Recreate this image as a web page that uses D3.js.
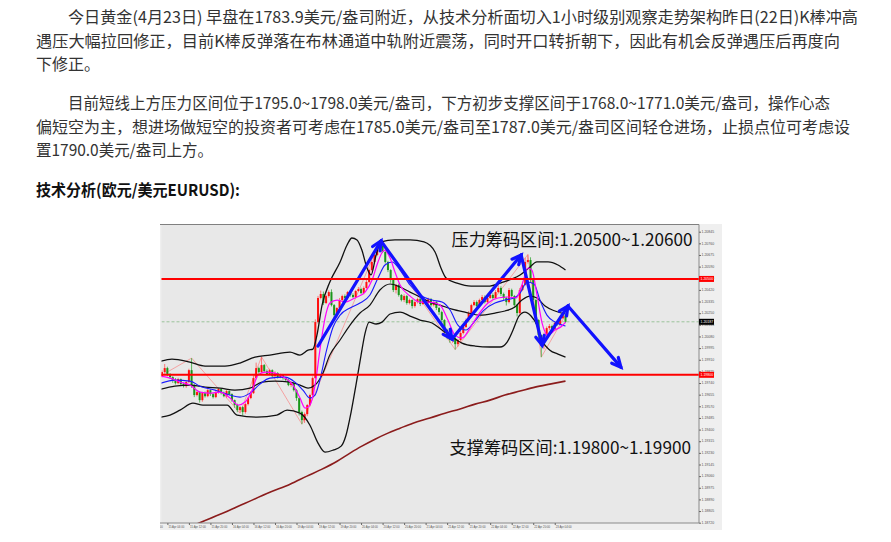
<!DOCTYPE html>
<html><head><meta charset="utf-8">
<script src="https://cdn.jsdelivr.net/npm/d3@7"></script>
<style>
body{margin:0;background:#fff;}
svg{display:block;}
</style></head>
<body><svg id="c" width="891" height="542"></svg>
<script>
// ---------------- DATA ----------------
const para1 = [
 "今日黄金(4月23日) 早盘在1783.9美元/盎司附近，从技术分析面切入1小时级别观察走势架构昨日(22日)K棒冲高",
 "遇压大幅拉回修正，目前K棒反弹落在布林通道中轨附近震荡，同时开口转折朝下，因此有机会反弹遇压后再度向",
 "下修正。"];
const para2 = [
 "目前短线上方压力区间位于1795.0~1798.0美元/盎司，下方初步支撑区间于1768.0~1771.0美元/盎司，操作心态",
 "偏短空为主，想进场做短空的投资者可考虑在1785.0美元/盎司至1787.0美元/盎司区间轻仓进场，止损点位可考虑设",
 "置1790.0美元/盎司上方。"];
const heading = "技术分析(欧元/美元EURUSD):";
const resistText = "压力筹码区间:1.20500~1.20600";
const supportText = "支撑筹码区间:1.19800~1.19900";

const firstOpen = 1.19790;
const closes = [
1.19820,1.19849,1.19805,1.19783,1.19761,1.19739,1.19768,1.19732,1.19717,1.19747,
1.19834,1.19725,1.19652,1.19674,1.19615,1.19666,1.19644,1.19688,1.19659,1.19637,
1.19674,1.19696,1.19666,1.19644,1.19681,1.19659,1.19615,1.19579,1.19542,1.19564,
1.19528,1.19586,1.19630,1.19666,1.19776,1.19849,1.19820,1.19871,1.19827,1.19805,
1.19834,1.19790,1.19812,1.19783,1.19798,1.19776,1.19761,1.19725,1.19739,1.19688,
1.19630,1.19528,1.19469,1.19513,1.19579,1.19652,1.19776,1.20185,1.20361,1.20390,
1.20324,1.20375,1.20404,1.20309,1.20236,1.20288,1.20346,1.20375,1.20361,1.20404,
1.20383,1.20368,1.20412,1.20426,1.20397,1.20434,1.20478,1.20565,1.20624,1.20675,
1.20711,1.20741,1.20697,1.20624,1.20565,1.20492,1.20419,1.20456,1.20383,1.20346,
1.20375,1.20324,1.20346,1.20302,1.20331,1.20353,1.20317,1.20339,1.20324,1.20353,
1.20309,1.20331,1.20288,1.20258,1.20200,1.20127,1.20090,1.20054,1.20068,1.20024,
1.20054,1.20105,1.20149,1.20200,1.20251,1.20309,1.20331,1.20302,1.20346,1.20368,
1.20331,1.20361,1.20383,1.20361,1.20404,1.20434,1.20390,1.20361,1.20331,1.20419,
1.20375,1.20309,1.20251,1.20419,1.20456,1.20624,1.20638,1.20492,1.20346,1.20200,
1.20090,1.20017,1.20090,1.20141,1.20156,1.20134,1.20178,1.20171,1.20214,1.20235,
1.20187];
// wick lengths in points (0.00001)
const upWick = [
12,30,10,8,6,15,10,5,12,8, 10,88,8,14,5,10,12,8,6,10, 14,8,6,12,8,5,6,4,10,8,
6,12,8,15,20,40,10,60,8,12, 10,6,14,8,10,6,8,12,6,5, 8,6,10,12,8,10,12,20,15,25,
18,10,12,20,8,6,15,10,12,8, 10,12,8,15,10,12,14,10,12,15, 20,36,15,10,8,6,12,8,10,6,
12,8,10,6,14,10,8,12,6,10, 8,12,6,8,10,6,8,5,15,12, 8,15,10,12,14,10,15,12,10,15,
12,10,18,12,15,20,12,10,8,15, 10,8,6,15,25,30,40,20,10,8, 6,5,18,12,15,10,12,10,15,20, 8];
const dnWick = [
10,8,15,12,20,10,8,15,10,12, 8,20,15,10,18,12,10,8,14,10, 8,12,10,8,14,10,12,20,15,18,
25,12,10,8,6,10,12,8,10,6, 8,12,6,10,8,12,10,8,15,10, 20,25,30,20,15,10,8,6,12,10,
15,8,12,10,25,18,10,12,8,10, 12,8,10,6,8,10,6,8,10,6, 8,10,8,12,15,20,15,25,12,10,
15,12,10,18,12,10,15,8,12,10, 12,10,15,20,18,25,30,20,20,40, 18,12,10,8,10,12,8,10,12,8,
10,12,8,10,6,8,15,20,25,10, 12,18,25,12,8,6,12,20,25,30, 40,88,30,20,15,18,10,12,8,6, 10];

// indicator lines: [bar index, price]
const bbUpper = [[-0.4,1.19900],[3.7,1.19915],[10.4,1.19893],[16,1.19864],[23.4,1.19864],[29,1.19886],[34.6,1.19929],[40.1,1.19944],[47.6,1.19966],[51.3,1.19944],[54.3,1.19980],[56.1,1.19988],[57.6,1.20090],[59.5,1.20309],[62.4,1.20478],[66.2,1.20624],[68.8,1.20748],[70.6,1.20799],[72.5,1.20785],[74.3,1.20711],[76.2,1.20580],[77.7,1.20529],[79.6,1.20675],[81.4,1.20770],[86.6,1.20785],[92.2,1.20785],[97.4,1.20770],[101.5,1.20697],[103.7,1.20580],[105.6,1.20507],[109.7,1.20470],[114.9,1.20448],[121.9,1.20448],[125.7,1.20470],[130.1,1.20500],[133.1,1.20529],[136.4,1.20580],[139.4,1.20624],[143.5,1.20624],[147.2,1.20602],[150,1.20565]];
const bbMiddle = [[-0.4,1.19695],[4.8,1.19717],[10.4,1.19725],[16,1.19710],[21.6,1.19703],[27.1,1.19688],[32.7,1.19703],[37.2,1.19747],[42,1.19754],[47.6,1.19747],[51.3,1.19725],[54.3,1.19703],[56.9,1.19725],[59.5,1.19798],[62.4,1.19944],[66.2,1.20054],[69.9,1.20163],[73.6,1.20251],[77.3,1.20309],[81,1.20419],[84.8,1.20463],[88.5,1.20441],[92.2,1.20404],[95.9,1.20368],[99.6,1.20331],[103.3,1.20309],[107.8,1.20280],[112.6,1.20258],[118.2,1.20236],[123.8,1.20251],[127.5,1.20266],[131.2,1.20295],[133.8,1.20346],[136.8,1.20375],[139.4,1.20361],[142.4,1.20302],[146.1,1.20266],[150,1.20244]];
const bbLower = [[-0.4,1.19491],[3,1.19506],[6.7,1.19542],[11.5,1.19593],[15.2,1.19579],[24.2,1.19579],[27.9,1.19506],[35.3,1.19491],[42.7,1.19506],[46.5,1.19542],[51.3,1.19520],[55,1.19432],[58,1.19301],[60.6,1.19235],[63.6,1.19250],[66.6,1.19279],[68.4,1.19359],[70.3,1.19528],[72.1,1.19725],[74,1.19944],[75.5,1.20105],[77,1.20185],[79.6,1.20171],[81.8,1.20185],[84.8,1.20244],[88.5,1.20258],[92.2,1.20229],[95.9,1.20200],[100.4,1.20178],[104.1,1.20127],[107.8,1.20076],[111.5,1.20032],[116.4,1.20010],[121.9,1.20003],[125.7,1.20003],[128.3,1.20039],[130.5,1.20127],[132.7,1.20229],[134.9,1.20258],[137.2,1.20229],[139.4,1.20163],[141.6,1.20039],[144.2,1.19980],[147.2,1.19951],[150,1.19929]];
const maFast = [[-0.4,1.19790],[3,1.19776],[6.7,1.19747],[10.4,1.19725],[14.1,1.19674],[17.8,1.19666],[21.6,1.19674],[25.3,1.19630],[28.3,1.19579],[30.9,1.19601],[33.5,1.19688],[35.7,1.19798],[38.3,1.19820],[42,1.19812],[45.7,1.19776],[48.7,1.19725],[51.3,1.19630],[53.2,1.19557],[55,1.19579],[56.9,1.19725],[58.7,1.19980],[60.6,1.20214],[62.4,1.20324],[65.1,1.20346],[68,1.20331],[71.7,1.20361],[75.5,1.20404],[78.1,1.20492],[80.3,1.20624],[82.6,1.20711],[84.8,1.20653],[86.6,1.20551],[88.5,1.20456],[92.2,1.20375],[95.9,1.20331],[99.6,1.20331],[103.3,1.20309],[106.3,1.20200],[108.9,1.20090],[111.5,1.20068],[114.5,1.20141],[117.5,1.20236],[121.2,1.20324],[124.9,1.20361],[128.6,1.20368],[131.6,1.20361],[133.8,1.20456],[136.1,1.20580],[137.5,1.20565],[139.4,1.20383],[141.3,1.20178],[143.5,1.20090],[146.1,1.20127],[148.7,1.20156],[150,1.20185]];
const maSlow = [[-0.4,1.19739],[4.8,1.19761],[10.4,1.19754],[14.1,1.19717],[19.7,1.19688],[25.3,1.19652],[29,1.19637],[32.7,1.19666],[36.4,1.19732],[40.1,1.19776],[45.7,1.19783],[49.4,1.19747],[52.4,1.19688],[55,1.19630],[56.9,1.19652],[58.7,1.19761],[61,1.19966],[63.6,1.20149],[66.2,1.20236],[69.9,1.20288],[73.6,1.20324],[77.3,1.20383],[80.3,1.20507],[82.9,1.20602],[85.5,1.20624],[88.5,1.20565],[92.2,1.20456],[95.9,1.20383],[100.4,1.20346],[104.1,1.20331],[107.1,1.20273],[110,1.20163],[113,1.20127],[116,1.20185],[119.7,1.20273],[123.8,1.20324],[127.5,1.20346],[130.8,1.20361],[133.1,1.20397],[135.7,1.20478],[138.3,1.20463],[140.5,1.20346],[143.1,1.20236],[146.1,1.20185],[150,1.20156]];
const zigzag = [[0,1.19798],[11,1.19922],[29,1.19520],[37,1.19931],[52,1.19440],[81,1.20777],[109,1.19984],[136,1.20678],[141,1.19929],[150,1.20236]];
const ma200 = [[12.6,1.18708],[21.6,1.18781],[30.9,1.18862],[40.1,1.18942],[47.6,1.19001],[53.9,1.19060],[59.5,1.19111],[65.1,1.19169],[69.9,1.19228],[74.3,1.19279],[79.2,1.19330],[84,1.19374],[88.5,1.19410],[93.3,1.19447],[99.6,1.19484],[105.2,1.19520],[110.8,1.19550],[116.4,1.19586],[121.9,1.19615],[127.5,1.19652],[133.1,1.19681],[138.7,1.19710],[144.2,1.19732],[150,1.19754]];
const arrowPath = [[58,1.20010],[81.4,1.20777],[107.8,1.20061],[133.5,1.20675],[141.3,1.20017],[150.9,1.20302],[170.6,1.19856]];

const resistance = 1.20500, support = 1.19800, lastPrice = 1.20187;
const priceMarkers = [[1.20500,"1.20500"],[1.20187,"1.20187"],[1.19800,"1.19800"]];
const yTicks = [1.20845,1.20760,1.20675,1.20590,1.20505,1.20420,1.20335,1.20250,1.20165,1.20080,1.19995,1.19910,1.19825,1.19740,1.19655,1.19570,1.19485,1.19400,1.19315,1.19230,1.19145,1.19060,1.18975,1.18890,1.18805,1.18720];
const xTickBars = [-6,2,10,18,26,34,42,50,58,66,74,82,90,98,106,114,122,130,138,146];
const xTickLabels = ["14 Apr 20:00","15 Apr 04:00","15 Apr 12:00","15 Apr 20:00","16 Apr 04:00","16 Apr 12:00","16 Apr 20:00","19 Apr 04:00","19 Apr 12:00","19 Apr 20:00","20 Apr 04:00","20 Apr 12:00","20 Apr 20:00","21 Apr 04:00","21 Apr 12:00","21 Apr 20:00","22 Apr 04:00","22 Apr 12:00","22 Apr 20:00","23 Apr 04:00"];

// ---------------- LAYOUT ----------------
const svg = d3.select("#c");
const CJK = '"Noto Sans CJK SC","Noto Sans",sans-serif';
const textLayout = [
 {t: para1[0], x:68, y:23, w:790},
 {t: para1[1], x:36, y:47, w:804},
 {t: para1[2], x:36, y:70, w:null},
 {t: para2[0], x:68, y:109, w:762},
 {t: para2[1], x:36, y:133, w:814},
 {t: para2[2], x:36, y:156, w:177}
];
textLayout.forEach(d => {
  const t = svg.append("text").attr("x", d.x).attr("y", d.y)
    .attr("font-family", CJK).attr("font-size", 16).attr("fill", "#333").text(d.t);
  if (d.w) t.attr("textLength", d.w).attr("lengthAdjust", "spacingAndGlyphs");
});
svg.append("text").attr("x", 36).attr("y", 196).attr("font-family", CJK)
  .attr("font-size", 16).attr("font-weight", "bold").attr("fill", "#111")
  .attr("textLength", 204).attr("lengthAdjust", "spacingAndGlyphs").text(heading);

// chart frame
const img = {x0:160, y0:224, x1:722, y1:530};
const plot = {x0:161.5, y0:224.5, x1:699, y1:523};
svg.append("rect").attr("x", img.x0).attr("y", img.y0).attr("width", img.x1-img.x0).attr("height", img.y1-img.y0).attr("fill", "#efefef");
svg.append("rect").attr("x", plot.x0).attr("y", plot.y0).attr("width", plot.x1-plot.x0).attr("height", plot.y1-plot.y0).attr("fill", "#e8e8e8");

const x = d3.scaleLinear().domain([0, 150]).range([162, 162 + 150*2.69]);
const y = d3.scaleLinear().domain([1.18720, 1.20845]).range([522.7, 231.7]);

svg.append("clipPath").attr("id", "pc").append("rect")
  .attr("x", plot.x0).attr("y", plot.y0).attr("width", plot.x1-plot.x0).attr("height", plot.y1-plot.y0);
svg.append("clipPath").attr("id", "ic").append("rect")
  .attr("x", img.x0).attr("y", img.y0).attr("width", img.x1-img.x0).attr("height", img.y1-img.y0);
const g = svg.append("g").attr("clip-path", "url(#pc)");

// current price dashed line
g.append("line").attr("x1", plot.x0).attr("x2", plot.x1).attr("y1", y(lastPrice)).attr("y2", y(lastPrice))
  .attr("stroke", "#9cc49c").attr("stroke-width", 1).attr("stroke-dasharray", "3,2");

// long MA
const lineGen = d3.line().x(d => x(d[0])).y(d => y(d[1])).curve(d3.curveMonotoneX);
g.append("path").attr("d", lineGen(ma200)).attr("fill", "none").attr("stroke", "#8b1c1c").attr("stroke-width", 1.6);

// zigzag
g.append("path").attr("d", d3.line().x(d => x(d[0])).y(d => y(d[1]))(zigzag))
  .attr("fill", "none").attr("stroke", "#f59a9a").attr("stroke-width", 0.9);

// candles
const candles = closes.map((c, i) => {
  const o = i === 0 ? firstOpen : closes[i-1];
  return {i, o, c, h: Math.max(o, c) + upWick[i]*1e-5, l: Math.min(o, c) - dnWick[i]*1e-5};
});
const cg = g.append("g");
cg.selectAll("line").data(candles).join("line")
  .attr("x1", d => x(d.i)).attr("x2", d => x(d.i))
  .attr("y1", d => y(d.h)).attr("y2", d => y(d.l))
  .attr("stroke", d => d.c >= d.o ? "#ff5a5a" : "#3aa83a").attr("stroke-width", 0.8);
cg.selectAll("rect").data(candles).join("rect")
  .attr("x", d => x(d.i) - 1).attr("width", 2)
  .attr("y", d => y(Math.max(d.o, d.c)))
  .attr("height", d => Math.max(1, Math.abs(y(d.o) - y(d.c))))
  .attr("fill", d => d.c >= d.o ? "#ff1010" : "#1a961a");

// bollinger + MAs
[[bbUpper, "#111", 1.3], [bbMiddle, "#111", 1.2], [bbLower, "#111", 1.3],
 [maSlow, "#1a1aff", 1.1], [maFast, "#ff00ff", 1.2]].forEach(([data, col, w]) => {
  g.append("path").attr("d", lineGen(data)).attr("fill", "none").attr("stroke", col).attr("stroke-width", w);
});

// resistance / support lines
[resistance, support].forEach(p => {
  svg.append("line").attr("x1", plot.x0).attr("x2", plot.x1 + 1).attr("y1", y(p)).attr("y2", y(p))
    .attr("stroke", "#ff0000").attr("stroke-width", 2);
});

// arrows
const ag = g.append("g").attr("stroke", "#1212ff").attr("stroke-width", 3.2).attr("stroke-linecap", "round").attr("fill", "none");
for (let k = 0; k < arrowPath.length - 1; k++) {
  const a = arrowPath[k], b = arrowPath[k+1];
  const x1 = x(a[0]), y1 = y(a[1]), x2 = x(b[0]), y2 = y(b[1]);
  ag.append("line").attr("x1", x1).attr("y1", y1).attr("x2", x2).attr("y2", y2);
  const ang = Math.atan2(y2 - y1, x2 - x1), L = 10, sp = 0.45;
  ag.append("path").attr("d",
    `M${x2 - L*Math.cos(ang - sp)},${y2 - L*Math.sin(ang - sp)}L${x2},${y2}L${x2 - L*Math.cos(ang + sp)},${y2 - L*Math.sin(ang + sp)}`)
    .attr("stroke-linejoin", "miter");
}

// annotation texts (font size chosen so natural width matches)
svg.append("text").attr("x", 451.5).attr("y", 246).attr("font-family", CJK).attr("font-size", 17.2)
  .attr("fill", "#111").attr("textLength", 241).attr("lengthAdjust", "spacingAndGlyphs").text(resistText);
svg.append("text").attr("x", 449.5).attr("y", 454).attr("font-family", CJK).attr("font-size", 17.2)
  .attr("fill", "#111").attr("textLength", 241.5).attr("lengthAdjust", "spacingAndGlyphs").text(supportText);

// frame borders
svg.append("line").attr("x1", img.x0).attr("x2", plot.x1).attr("y1", plot.y0).attr("y2", plot.y0).attr("stroke", "#808080").attr("stroke-width", 1);
svg.append("line").attr("x1", plot.x1).attr("x2", plot.x1).attr("y1", plot.y0).attr("y2", plot.y1).attr("stroke", "#8a8a8a").attr("stroke-width", 1);
svg.append("line").attr("x1", img.x0).attr("x2", plot.x1).attr("y1", plot.y1).attr("y2", plot.y1).attr("stroke", "#8a8a8a").attr("stroke-width", 1);

// tiny text helper: draws at double size then scales by 0.5 (avoids minimum font size)
function tiny(parent, tx, ty, str, size, fill) {
  return parent.append("text").attr("transform", `translate(${tx},${ty}) scale(0.5)`)
    .attr("font-family", "Liberation Sans, Arial, sans-serif").attr("font-size", size * 2)
    .attr("fill", fill).text(str);
}

// right price axis
const yAxis = d3.axisRight(y).tickValues(yTicks).tickSize(2).tickFormat("");
const ya = svg.append("g").attr("transform", `translate(${plot.x1},0)`).call(yAxis);
ya.select(".domain").remove();
ya.selectAll("line").attr("stroke", "#666");
const fmt = d3.format(".5f");
yTicks.forEach(v => tiny(svg, plot.x1 + 2.5, y(v) + 1.2, fmt(v), 3.5, "#555"));

priceMarkers.forEach(([p, lbl], k) => {
  const col = k === 1 ? "#000" : "#ff0000";
  svg.append("rect").attr("x", plot.x1).attr("y", y(p) - 3).attr("width", 15).attr("height", 6).attr("fill", col);
  tiny(svg, plot.x1 + 1.5, y(p) + 1.2, lbl, 3.5, "#fff");
});

// bottom time axis
const xg = svg.append("g").attr("clip-path", "url(#ic)");
const xa = xg.append("g").attr("transform", `translate(0,${plot.y1})`)
  .call(d3.axisBottom(x).tickValues(xTickBars).tickSize(2).tickFormat(""));
xa.select(".domain").remove();
xa.selectAll("line").attr("stroke", "#666");
xTickBars.forEach((b, i) => tiny(xg, x(b) + 1, plot.y1 + 4.6, xTickLabels[i], 2.8, "#555"));
</script>
</body></html>
